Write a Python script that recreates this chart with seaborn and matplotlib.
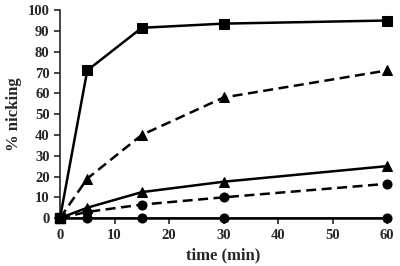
import matplotlib
matplotlib.use("Agg")
import matplotlib.pyplot as plt
import seaborn as sns
import pandas as pd

time = [0, 5, 15, 30, 60]
sq_solid = [0, 71, 91.5, 93.5, 95]
tri_dashed = [0, 19, 40, 58, 71]
tri_solid = [0, 5, 12.5, 17.5, 25]
circ_dashed = [0, 3, 6.5, 10, 16.5]
circ_solid = [0, 0, 0, 0, 0]

series = [
    (sq_solid, "s", "-"),
    (tri_dashed, "^", "--"),
    (tri_solid, "^", "-"),
    (circ_dashed, "o", "--"),
    (circ_solid, "o", "-"),
]

sns.set_style("ticks")
plt.rcParams['font.family'] = ['Liberation Serif', 'DejaVu Serif']
plt.rcParams['font.weight'] = 'bold'

fig = plt.figure(figsize=(4, 2.66), dpi=100)
ax = fig.add_axes([0.15, 0.18, 0.818, 0.782])

for vals, mk, ls in series:
    df = pd.DataFrame({"t": time, "v": vals})
    sns.lineplot(data=df, x="t", y="v", ax=ax, color="black", linestyle=ls,
                 linewidth=1.8, marker=mk, markersize=6.5, markeredgecolor="black",
                 clip_on=False, zorder=3)
    if ls == "--":
        ax.lines[-1].set_dashes((4, 2.2))
ax.plot([0], [0], marker="s", color="black", markersize=6.5, clip_on=False, zorder=4)

ax.set_xlim(0, 60)
ax.set_ylim(0, 100)
ax.set_xticks(range(0, 61, 10))
ax.set_yticks(range(0, 101, 10))
ax.tick_params(labelsize=10.5, width=1.2, length=4, direction="out")
for lab in ax.get_xticklabels() + ax.get_yticklabels():
    lab.set_fontweight("bold")
sns.despine(ax=ax)
for s in ["left", "bottom"]:
    ax.spines[s].set_linewidth(1.2)
ax.set_xlabel("time (min)", fontsize=12, fontweight="bold", labelpad=4)
ax.set_ylabel("% nicking", fontsize=12, fontweight="bold")

fig.savefig("out.png", dpi=100)
